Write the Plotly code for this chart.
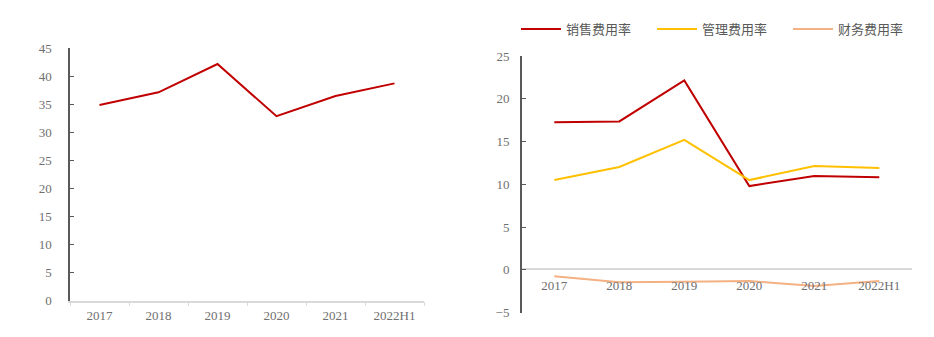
import plotly.graph_objects as go

years = ["2017", "2018", "2019", "2020", "2021", "2022H1"]
left_values = [34.9, 37.15, 42.2, 32.9, 36.5, 38.75]
sales_rate = [17.27, 17.35, 22.15, 9.8, 10.97, 10.82]
admin_rate = [10.5, 12.03, 15.2, 10.5, 12.15, 11.9]
finance_rate = [-0.75, -1.45, -1.37, -1.3, -1.88, -1.3]
series_names = ["销售费用率", "管理费用率", "财务费用率"]

W, H = 934, 337
RED = "#C00000"
YELLOW = "#FFC000"
PEACH = "#F4B183"
TXT = "#6F6F6F"
NUM_FONT = dict(family="Liberation Serif, DejaVu Serif, serif", size=13, color=TXT)

fig = go.Figure()

fig.add_trace(go.Scatter(x=years, y=left_values, mode="lines",
                         line=dict(color=RED, width=2), showlegend=False,
                         xaxis="x", yaxis="y"))

for name, vals, col in zip(series_names, [sales_rate, admin_rate, finance_rate], [RED, YELLOW, PEACH]):
    fig.add_trace(go.Scatter(x=years, y=vals, mode="lines", name=name,
                             line=dict(color=col, width=2),
                             xaxis="x2", yaxis="y2"))

def py(px):
    return 1 - px / H

zero_pos = py(269.3)

fig.update_layout(
    width=W, height=H,
    margin=dict(l=0, r=0, t=0, b=0, autoexpand=False),
    paper_bgcolor="white", plot_bgcolor="white",
    showlegend=True,
    legend=dict(orientation="h", x=516 / W, xanchor="left", y=py(29), yanchor="middle",
                font=dict(family="Noto Sans CJK SC", size=13, color="#595959"),
                itemwidth=40, entrywidth=81, entrywidthmode="pixels",
                bgcolor="rgba(0,0,0,0)", tracegroupgap=0),
    xaxis=dict(domain=[70 / W, 424 / W], anchor="y", type="category",
               range=[-0.5, 5.5], showgrid=False, zeroline=False,
               showline=True, linecolor="#D9D9D9", linewidth=1.5,
               ticks="outside", tickson="boundaries", ticklen=4, tickcolor="#D9D9D9",
               tickfont=NUM_FONT, ticklabelstandoff=2, tickangle=0),
    yaxis=dict(domain=[py(300.7), py(48.3)], anchor="x", range=[0, 45],
               tickvals=[0, 5, 10, 15, 20, 25, 30, 35, 40, 45],
               showgrid=False, zeroline=False,
               showline=True, linecolor="#595959", linewidth=1.5,
               ticks="inside", ticklen=4, tickcolor="#595959",
               tickfont=NUM_FONT, ticklabelstandoff=14),
    xaxis2=dict(domain=[521.8 / W, 911.8 / W], anchor="free", position=zero_pos,
                type="category", range=[-0.5, 5.5], showgrid=False, zeroline=False,
                showline=True, linecolor="#D9D9D9", linewidth=2,
                ticks="", tickfont=NUM_FONT, ticklabelstandoff=4, tickangle=0),
    yaxis2=dict(domain=[py(312.7), py(56)], anchor="x2", range=[-5, 25],
                tickvals=[-5, 0, 5, 10, 15, 20, 25],
                showgrid=False, zeroline=False,
                showline=True, linecolor="#595959", linewidth=1.5,
                ticks="inside", ticklen=4, tickcolor="#595959",
                tickfont=NUM_FONT, ticklabelstandoff=8),
)

fig.write_html("out.html")
